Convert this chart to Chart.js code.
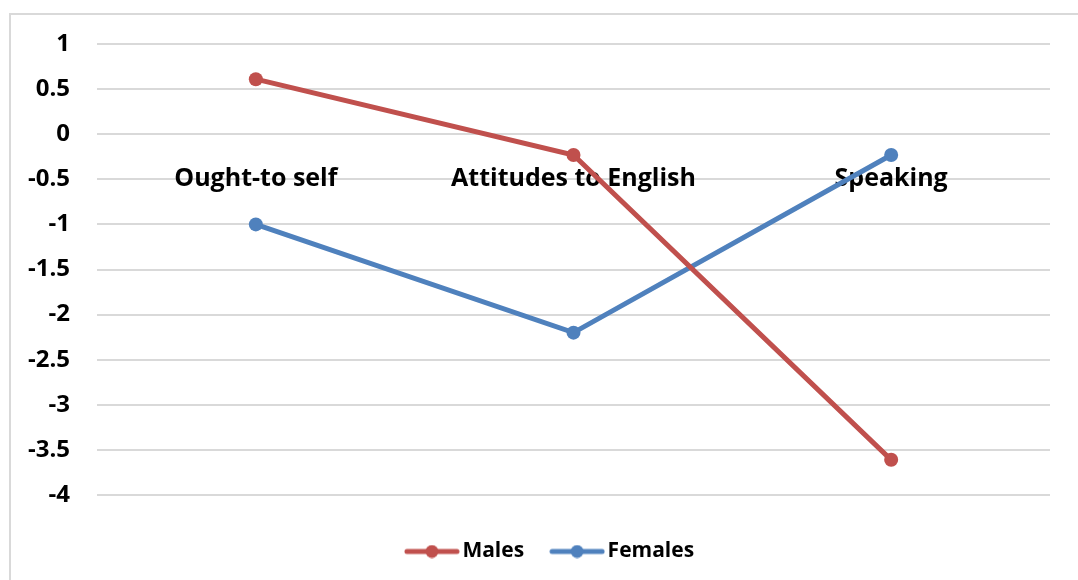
<!DOCTYPE html>
<html>
<head>
<meta charset="utf-8">
<script src="https://cdn.jsdelivr.net/npm/chart.js@4.4.1/dist/chart.umd.min.js"></script>
<style>
  body { margin: 0; background: #fff; overflow: hidden; }
  #frame { position: absolute; left: 9px; top: 13px; width: 1200px; height: 700px; border: 2px solid #d9d9d9; }
  #myChart { position: absolute; left: 0; top: 0; }
</style>
</head>
<body>
<div id="frame"></div>
<canvas id="myChart" width="1078" height="580"></canvas>
<script>
// categorias y series
const categories = ["Ought-to self", "Attitudes to English", "Speaking"];
const males = [0.61, -0.23, -3.61];
const females = [-1.0, -2.2, -0.23];
const yMin = -4;
const yMax = 1;
const yStep = 0.5;

const red = "#C0504D";
const blue = "#4F81BD";
const fontFamily = "'Open Sans', Lato, sans-serif";

// marcador de leyenda: linea con punto al centro
const legendMarker = (color) => {
  const c = document.createElement("canvas");
  c.width = 56;
  c.height = 14;
  const ctx = c.getContext("2d");
  ctx.strokeStyle = color;
  ctx.lineWidth = 5;
  ctx.lineCap = "round";
  ctx.beginPath();
  ctx.moveTo(3, 7);
  ctx.lineTo(53, 7);
  ctx.stroke();
  ctx.fillStyle = color;
  ctx.beginPath();
  ctx.arc(28, 7, 6.5, 0, Math.PI * 2);
  ctx.fill();
  return c;
};

// la leyenda queda centrada bajo el area de trazado, un poco mas abajo
const shiftLegend = {
  id: "shiftLegend",
  afterLayout: (chart) => {
    const legend = chart.legend;
    legend.left = 56;
    legend.top += 13;
    legend.bottom += 13;
  },
};

const datasets = [
  {
    label: "Males",
    data: males,
    borderColor: red,
    backgroundColor: red,
    borderWidth: 5,
    pointRadius: 7,
    pointBorderWidth: 0,
    pointBackgroundColor: red,
    marker: legendMarker(red),
  },
  {
    label: "Females",
    data: females,
    borderColor: blue,
    backgroundColor: blue,
    borderWidth: 5,
    pointRadius: 7,
    pointBorderWidth: 0,
    pointBackgroundColor: blue,
    marker: legendMarker(blue),
  },
];

const config = {
  type: "line",
  data: { labels: categories, datasets },
  plugins: [shiftLegend],
  options: {
    responsive: false,
    animation: false,
    layout: { padding: { top: 44, right: 28, bottom: 21, left: 0 } },
    plugins: {
      tooltip: { enabled: false },
      legend: {
        position: "bottom",
        labels: {
          usePointStyle: true,
          pointStyleWidth: 40,
          padding: 33,
          color: "#000",
          font: { family: fontFamily, size: 21, weight: "bold" },
          generateLabels: (chart) =>
            chart.data.datasets.map((ds, i) => ({
              text: ds.label,
              pointStyle: ds.marker,
              fontColor: "#000",
              datasetIndex: i,
              lineWidth: 0,
            })),
        },
      },
    },
    scales: {
      x: {
        position: { y: 0 },
        offset: true,
        grid: { display: false, drawTicks: false },
        border: { display: false },
        ticks: {
          padding: 30,
          color: "#000",
          maxRotation: 0,
          font: { family: fontFamily, size: 25, weight: "bold" },
        },
      },
      y: {
        min: yMin,
        max: yMax,
        afterFit: (scale) => { scale.width = 97; },
        grid: { color: "#d9d9d9", lineWidth: 2, drawTicks: false },
        border: { display: false },
        ticks: {
          stepSize: yStep,
          padding: 27,
          color: "#000",
          font: { family: fontFamily, size: 24, weight: "bold" },
          callback: (value) => `${value}`,
        },
      },
    },
  },
};

const myChart = new Chart(document.querySelector("#myChart"), config);
</script>
</body>
</html>
